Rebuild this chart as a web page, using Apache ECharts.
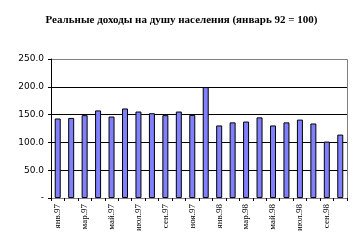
<!DOCTYPE html>
<html><head><meta charset="utf-8">
<script src="https://cdn.jsdelivr.net/npm/echarts@6/dist/echarts.min.js"></script>
<style>html,body{margin:0;padding:0;background:#fff}#c{width:363px;height:241px}</style>
</head><body><div id="c"></div>
<script>
const categories = ['янв.97','фев.97','мар.97','апр.97','май.97','июн.97','июл.97','авг.97','сен.97','окт.97','ноя.97','дек.97','янв.98','фев.98','мар.98','апр.98','май.98','июн.98','июл.98','авг.98','сен.98','окт.98'];
const values = [143, 144, 149, 157.5, 146.5, 161, 155.5, 152.5, 149, 155.5, 149.5, 199.5, 130.5, 136, 137.5, 145, 130.5, 136, 141, 134, 101.5, 114];
const yTicks = [0, 50, 100, 150, 200, 250];
const titleText = 'Реальные доходы на душу населения (январь 92 = 100)';

const chart = echarts.init(document.getElementById('c'));
chart.setOption({
  animation: false,
  title: { text: titleText, left: 'center', top: 10, textStyle: { fontFamily: 'Liberation Serif', fontWeight: 'bold', fontSize: 11, color: '#000' } },
  grid: { left: 51, right: 16, top: 59, bottom: 43 },
  xAxis: {
    type: 'category', data: categories,
    axisLine: { lineStyle: { color: '#808080' } },
    axisTick: { show: true, alignWithLabel: false, interval: 0, lineStyle: { color: '#000' }, length: 3 },
    axisLabel: { interval: 1, rotate: 90, fontFamily: 'Liberation Serif', fontSize: 9, color: '#000', margin: 6 },
  },
  yAxis: {
    type: 'value', min: 0, max: 250, interval: 50,
    axisLine: { show: true, lineStyle: { color: '#000' } },
    axisTick: { show: true, length: 3, lineStyle: { color: '#000' } },
    splitLine: { lineStyle: { color: '#000', width: 1 } },
    axisLabel: { fontFamily: 'DejaVu Sans', fontSize: 9, color: '#000', margin: 7,
      formatter: v => v === 0 ? '-' : v.toFixed(1) },
  },
  series: [{
    type: 'bar', data: values, barWidth: 6,
    itemStyle: { color: '#8080FF', borderColor: '#000', borderWidth: 1 },
  }],
  graphic: [{ type: 'polyline', z: 100, shape: { points: [[52, 59.5], [347.5, 59.5], [347.5, 198]] }, style: { stroke: '#808080', fill: null, lineWidth: 1 } }]
});
</script></body></html>
